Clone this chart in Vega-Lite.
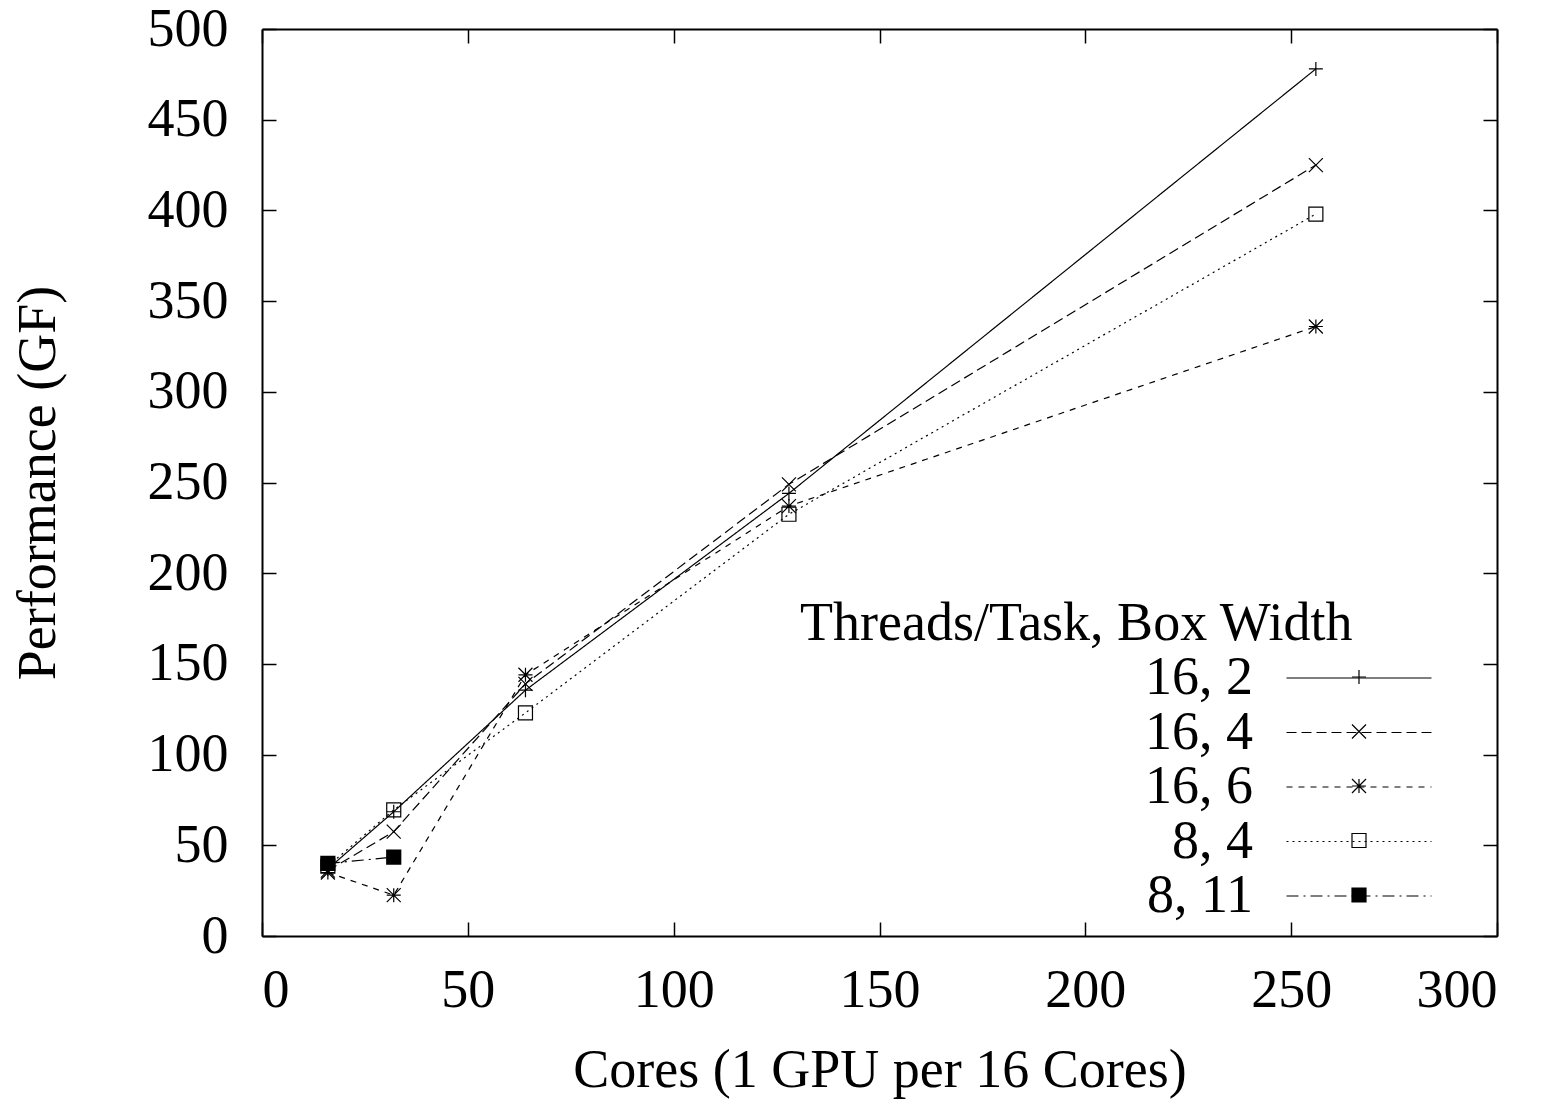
{
  "$schema": "https://vega.github.io/schema/vega-lite/v6.json",
  "width": 1235,
  "height": 907,
  "autosize": {"type": "none"},
  "padding": {"left": 262, "top": 29, "right": 58, "bottom": 168},
  "background": "white",
  "config": {
    "font": "Liberation Serif",
    "view": {"stroke": null},
    "axis": {
      "domainColor": "black", "domainWidth": 2,
      "tickColor": "black", "tickWidth": 1.5, "tickSize": -14,
      "labelFont": "Liberation Serif", "labelFontSize": 54, "labelColor": "black",
      "titleFont": "Liberation Serif", "titleFontSize": 54, "titleFontWeight": "normal", "titleColor": "black",
      "grid": false
    },
    "legend": {
      "labelFont": "Liberation Serif", "labelFontSize": 54, "labelColor": "black", "labelLimit": 1000,
      "titleFont": "Liberation Serif", "titleFontSize": 54, "titleFontWeight": "normal", "titleColor": "black", "titleLimit": 1000,
      "rowPadding": 0.5, "padding": 0
    }
  },
  "data": {
    "values": [
      {"series": "16, 2", "cores": 16, "gf": 37},
      {"series": "16, 2", "cores": 32, "gf": 68.5},
      {"series": "16, 2", "cores": 64, "gf": 135.5},
      {"series": "16, 2", "cores": 128, "gf": 244},
      {"series": "16, 2", "cores": 256, "gf": 478},
      {"series": "16, 4", "cores": 16, "gf": 36},
      {"series": "16, 4", "cores": 32, "gf": 57.5},
      {"series": "16, 4", "cores": 64, "gf": 139},
      {"series": "16, 4", "cores": 128, "gf": 249},
      {"series": "16, 4", "cores": 256, "gf": 425},
      {"series": "16, 6", "cores": 16, "gf": 35},
      {"series": "16, 6", "cores": 32, "gf": 22.5},
      {"series": "16, 6", "cores": 64, "gf": 144},
      {"series": "16, 6", "cores": 128, "gf": 237},
      {"series": "16, 6", "cores": 256, "gf": 336},
      {"series": "8, 4", "cores": 16, "gf": 38.5},
      {"series": "8, 4", "cores": 32, "gf": 69.5},
      {"series": "8, 4", "cores": 64, "gf": 123},
      {"series": "8, 4", "cores": 128, "gf": 232.5},
      {"series": "8, 4", "cores": 256, "gf": 398},
      {"series": "8, 11", "cores": 16, "gf": 40},
      {"series": "8, 11", "cores": 32, "gf": 43.5}
    ]
  },
  "layer": [
    {
      "mark": {"type": "line", "color": "black", "strokeWidth": 1.2},
      "encoding": {
        "x": {
          "field": "cores", "type": "quantitative",
          "scale": {"domain": [0, 300], "nice": false, "zero": false},
          "axis": {"orient": "bottom", "values": [0, 50, 100, 150, 200, 250, 300], "labelPadding": 41, "title": "Cores (1 GPU per 16 Cores)", "titlePadding": 26}
        },
        "y": {
          "field": "gf", "type": "quantitative",
          "scale": {"domain": [0, 500], "nice": false},
          "axis": {"orient": "left", "values": [0, 50, 100, 150, 200, 250, 300, 350, 400, 450, 500], "labelPadding": 48, "title": "Performance (GF)", "titlePadding": 82}
        },
        "strokeDash": {
          "field": "series", "type": "nominal",
          "scale": {
            "domain": ["16, 2", "16, 4", "16, 6", "8, 4", "8, 11"],
            "range": [[1, 0], [10, 5], [6, 6], [2, 4], [12, 5, 2, 5]]
          },
          "legend": {
            "title": "Threads/Task, Box Width",
            "orient": "none", "legendX": 538, "legendY": 568,
            "symbolType": "M-5,0H5", "symbolSize": 841, "symbolStrokeColor": "black", "symbolStrokeWidth": 1.2,
            "symbolOffset": 532, "labelAlign": "right", "labelOffset": -133, "titlePadding": 0
          }
        }
      }
    },
    {
      "mark": {"type": "point", "stroke": "black", "strokeWidth": 1.2, "opacity": 1, "filled": false, "fill": "transparent", "size": 196},
      "encoding": {
        "x": {
          "field": "cores", "type": "quantitative",
          "axis": {"orient": "top", "values": [0, 50, 100, 150, 200, 250, 300], "labels": false, "title": null}
        },
        "y": {
          "field": "gf", "type": "quantitative",
          "axis": {"orient": "right", "values": [0, 50, 100, 150, 200, 250, 300, 350, 400, 450, 500], "labels": false, "title": null}
        },
        "shape": {
          "field": "series", "type": "nominal",
          "scale": {
            "domain": ["8, 11", "8, 4", "16, 6", "16, 4", "16, 2"],
            "range": [
              "M-1,-1H1V1H-1Z M-1,-0.9H1 M-1,-0.8H1 M-1,-0.7H1 M-1,-0.6H1 M-1,-0.5H1 M-1,-0.4H1 M-1,-0.3H1 M-1,-0.2H1 M-1,-0.1H1 M-1,0H1 M-1,0.1H1 M-1,0.2H1 M-1,0.3H1 M-1,0.4H1 M-1,0.5H1 M-1,0.6H1 M-1,0.7H1 M-1,0.8H1 M-1,0.9H1",
              "square",
              "M-1,0H1M0,-1V1M-1,-1L1,1M-1,1L1,-1",
              "M-1,-1L1,1M-1,1L1,-1",
              "M-1,0H1M0,-1V1"
            ]
          },
          "legend": {
            "title": null, "values": ["16, 2", "16, 4", "16, 6", "8, 4", "8, 11"],
            "orient": "none", "legendX": 1070, "legendY": 621,
            "symbolSize": 196, "symbolStrokeColor": "black", "symbolStrokeWidth": 1.2, "symbolFillColor": "transparent",
            "labelExpr": "''", "symbolOffset": 0
          }
        }
      }
    }
  ],
  "resolve": {"axis": {"x": "independent", "y": "independent"}}
}
